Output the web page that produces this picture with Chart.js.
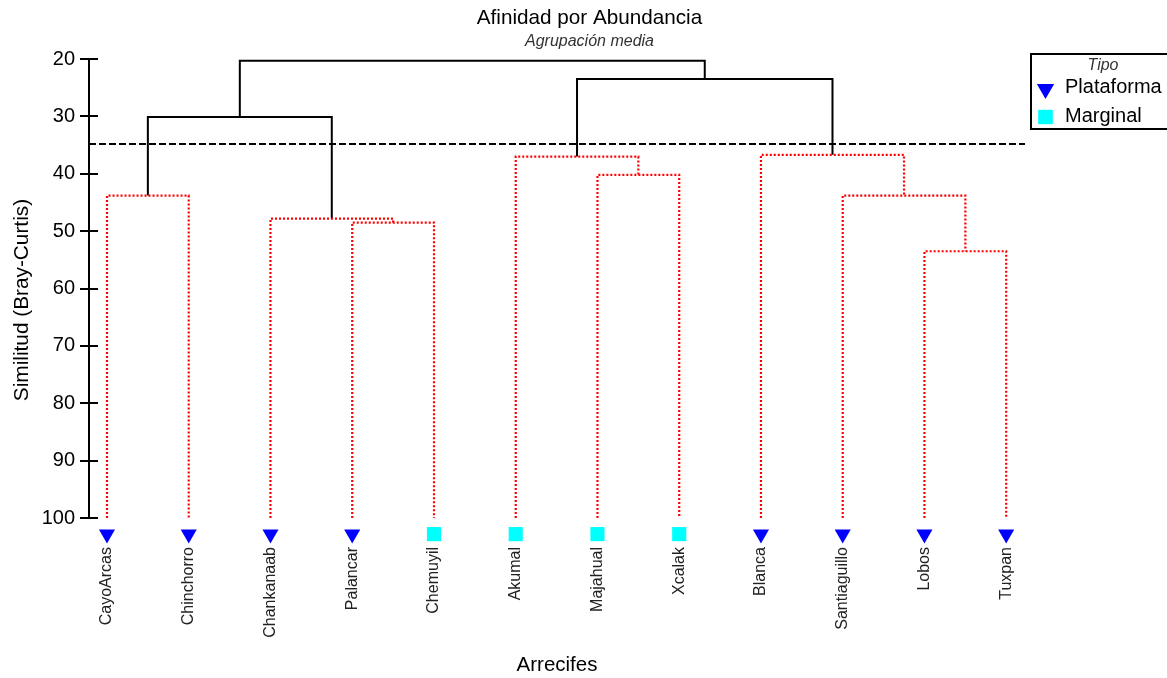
<!DOCTYPE html>
<html>
<head>
<meta charset="utf-8">
<script src="https://cdn.jsdelivr.net/npm/chart.js@4/dist/chart.umd.min.js"></script>
<style>
  html, body { margin: 0; padding: 0; background: #fff; }
  #wrap { width: 1167px; height: 678px; }
</style>
</head>
<body>
<div id="wrap"><canvas id="c" width="1167" height="678"></canvas></div>
<script>
// ---- Data ----
const leaves = ['CayoArcas','Chinchorro','Chankanaab','Palancar','Chemuyil','Akumal','Majahual','Xcalak','Blanca','Santiaguillo','Lobos','Tuxpan'];
const tipo   = ['Plataforma','Plataforma','Plataforma','Plataforma','Marginal','Marginal','Marginal','Marginal','Plataforma','Plataforma','Plataforma','Plataforma'];
// merges (linkage): node ids 0..11 are leaves, merge k creates node 12+k
const mergeA = [0, 3, 2, 12, 6, 5, 10, 9, 8, 17, 15];
const mergeB = [1, 4, 13, 14, 7, 16, 11, 18, 19, 20, 21];
const mergeH = [43.8, 48.5, 47.8, 30.1, 40.2, 37.0, 53.5, 43.8, 36.7, 23.5, 20.3];
const cutLevel = 34.8;
const leafLevel = 100;
const yTickValues = [20, 30, 40, 50, 60, 70, 80, 90, 100];
const legendTypes = ['Plataforma', 'Marginal'];

// ---- Layout constants (not data) ----
const X_MIN = -0.22, X_MAX = 11.23;
const Y_MIN = 20, Y_AXIS_END = 100, Y_MAX = 104;
const MARKER_Y = 102.8;
const FONT = "'Liberation Sans', Arial, Helvetica, sans-serif";

Chart.defaults.font.family = FONT;
Chart.defaults.color = '#000';

// build dendrogram segments
const nodeX = leaves.map((_, i) => i);
const nodeH = leaves.map(() => leafLevel);
const linkSets = [];
for (let k = 0; k < mergeA.length; k++) {
  const a = mergeA[k], b = mergeB[k], h = mergeH[k];
  const xa = nodeX[a], xb = nodeX[b];
  const above = h < cutLevel;
  linkSets.push({
    type: 'line',
    data: [{x: xa, y: nodeH[a]}, {x: xa, y: h}, {x: xb, y: h}, {x: xb, y: nodeH[b]}],
    borderColor: above ? '#000000' : '#ff0000',
    borderWidth: above ? 2 : 2.2,
    borderDash: above ? [] : [2, 2],
    borderCapStyle: 'butt',
    borderJoinStyle: 'miter',
    pointRadius: 0,
    tension: 0,
    fill: false
  });
  nodeX.push((xa + xb) / 2);
  nodeH.push(h);
}

const cutSet = {
  type: 'line',
  data: [{x: X_MIN, y: cutLevel}, {x: X_MAX, y: cutLevel}],
  borderColor: '#000', borderWidth: 2, borderDash: [7, 3], pointRadius: 0, fill: false
};

const markerStyle = {
  Plataforma: {pointStyle: 'triangle', rotation: 180, radius: 9.3, color: '#0000ff'},
  Marginal:   {pointStyle: 'rect', rotation: 0, radius: 10, color: '#00ffff'}
};
const markerSets = legendTypes.map(t => ({
  type: 'scatter',
  label: t,
  data: leaves.map((_, i) => i).filter(i => tipo[i] === t).map(i => ({x: i, y: MARKER_Y})),
  pointStyle: markerStyle[t].pointStyle,
  rotation: markerStyle[t].rotation,
  pointRadius: markerStyle[t].radius,
  backgroundColor: markerStyle[t].color,
  borderColor: markerStyle[t].color,
  borderWidth: 0,
  showLine: false,
  clip: false
}));

const axisDecor = {
  id: 'axisDecor',
  afterDraw(chart) {
    const s = chart.scales.y, ctx = chart.ctx, left = chart.chartArea.left;
    ctx.save();
    ctx.strokeStyle = '#000';
    ctx.lineWidth = 2;
    // axis line from 20 to 100
    ctx.beginPath();
    ctx.moveTo(left, s.getPixelForValue(Y_MIN) - 1);
    ctx.lineTo(left, s.getPixelForValue(Y_AXIS_END) + 1);
    ctx.stroke();
    // inner half of tick marks
    s.ticks.forEach(t => {
      const p = Math.round(s.getPixelForValue(t.value));
      ctx.beginPath();
      ctx.moveTo(left, p);
      ctx.lineTo(left + 9, p);
      ctx.stroke();
    });
    ctx.restore();
  }
};

const customLegend = {
  id: 'customLegend',
  afterDraw(chart) {
    const ctx = chart.ctx;
    ctx.save();
    ctx.strokeStyle = '#000';
    ctx.lineWidth = 2;
    ctx.strokeRect(1031, 54, 150, 75);
    ctx.fillStyle = '#333';
    ctx.font = 'italic 16px ' + FONT;
    ctx.textAlign = 'center';
    ctx.textBaseline = 'alphabetic';
    ctx.fillText('Tipo', 1103, 70);
    ctx.font = '20px ' + FONT;
    ctx.textAlign = 'left';
    const rows = [{y: 93, cy: 89}, {y: 121.5, cy: 117}];
    legendTypes.forEach((t, i) => {
      const st = markerStyle[t];
      ctx.fillStyle = st.color;
      const cx = 1045.5, cy = rows[i].cy;
      if (st.pointStyle === 'triangle') {
        const r = 10;
        ctx.beginPath();
        ctx.moveTo(cx, cy + r);
        ctx.lineTo(cx - r * Math.sqrt(3) / 2, cy - r / 2);
        ctx.lineTo(cx + r * Math.sqrt(3) / 2, cy - r / 2);
        ctx.closePath();
        ctx.fill();
      } else {
        ctx.fillRect(cx - 7.3, cy - 7.2, 14.6, 14.4);
      }
      ctx.fillStyle = '#000';
      ctx.fillText(t, 1065, rows[i].y);
    });
    ctx.restore();
  }
};

new Chart(document.getElementById('c'), {
  type: 'scatter',
  data: { datasets: [...linkSets, cutSet, ...markerSets] },
  options: {
    responsive: false,
    animation: false,
    events: [],
    layout: { padding: { left: 12, right: 0, top: 0, bottom: 0 } },
    plugins: {
      legend: { display: false },
      tooltip: { enabled: false },
      title: {
        display: true,
        text: 'Afinidad por Abundancia',
        color: '#000',
        font: { size: 20.7, weight: 'normal', lineHeight: 1.2 },
        padding: { top: 5.5, bottom: 0 }
      },
      subtitle: {
        display: true,
        text: 'Agrupación media',
        color: '#333',
        font: { size: 16, style: 'italic', weight: 'normal', lineHeight: 1.2 },
        padding: { top: 1.5, bottom: 8 }
      }
    },
    scales: {
      x: {
        type: 'linear',
        position: 'bottom',
        min: X_MIN,
        max: X_MAX,
        afterBuildTicks: s => { s.ticks = leaves.map((_, i) => ({ value: i })); },
        afterFit: s => { s.height = 137; },
        grid: { display: false, drawTicks: false },
        border: { display: false },
        ticks: {
          autoSkip: false,
          minRotation: 90,
          maxRotation: 90,
          padding: 6,
          color: '#222',
          font: { size: 16 },
          callback: v => leaves[v] ?? ''
        },
        title: {
          display: true,
          text: 'Arrecifes',
          color: '#000',
          font: { size: 20.5, lineHeight: 1.2 },
          padding: { top: 0, bottom: 0 }
        }
      },
      y: {
        type: 'linear',
        position: 'left',
        reverse: true,
        min: Y_MIN,
        max: Y_MAX,
        afterBuildTicks: s => { s.ticks = yTickValues.map(v => ({ value: v })); },
        afterFit: s => { s.width = 77; },
        grid: { drawOnChartArea: false, drawTicks: true, tickLength: 9, color: '#000', lineWidth: 2 },
        border: { display: false },
        ticks: { color: '#000', padding: 5, font: { size: 20 } },
        title: {
          display: true,
          text: 'Similitud (Bray-Curtis)',
          color: '#000',
          font: { size: 20.8, lineHeight: 1 },
          padding: { top: 0, bottom: 0 }
        }
      },
      y2: {
        type: 'linear',
        position: 'right',
        display: true,
        grid: { display: false },
        border: { display: false },
        ticks: { display: false },
        afterFit: s => { s.width = 142; }
      }
    }
  },
  plugins: [axisDecor, customLegend]
});
</script>
</body>
</html>
